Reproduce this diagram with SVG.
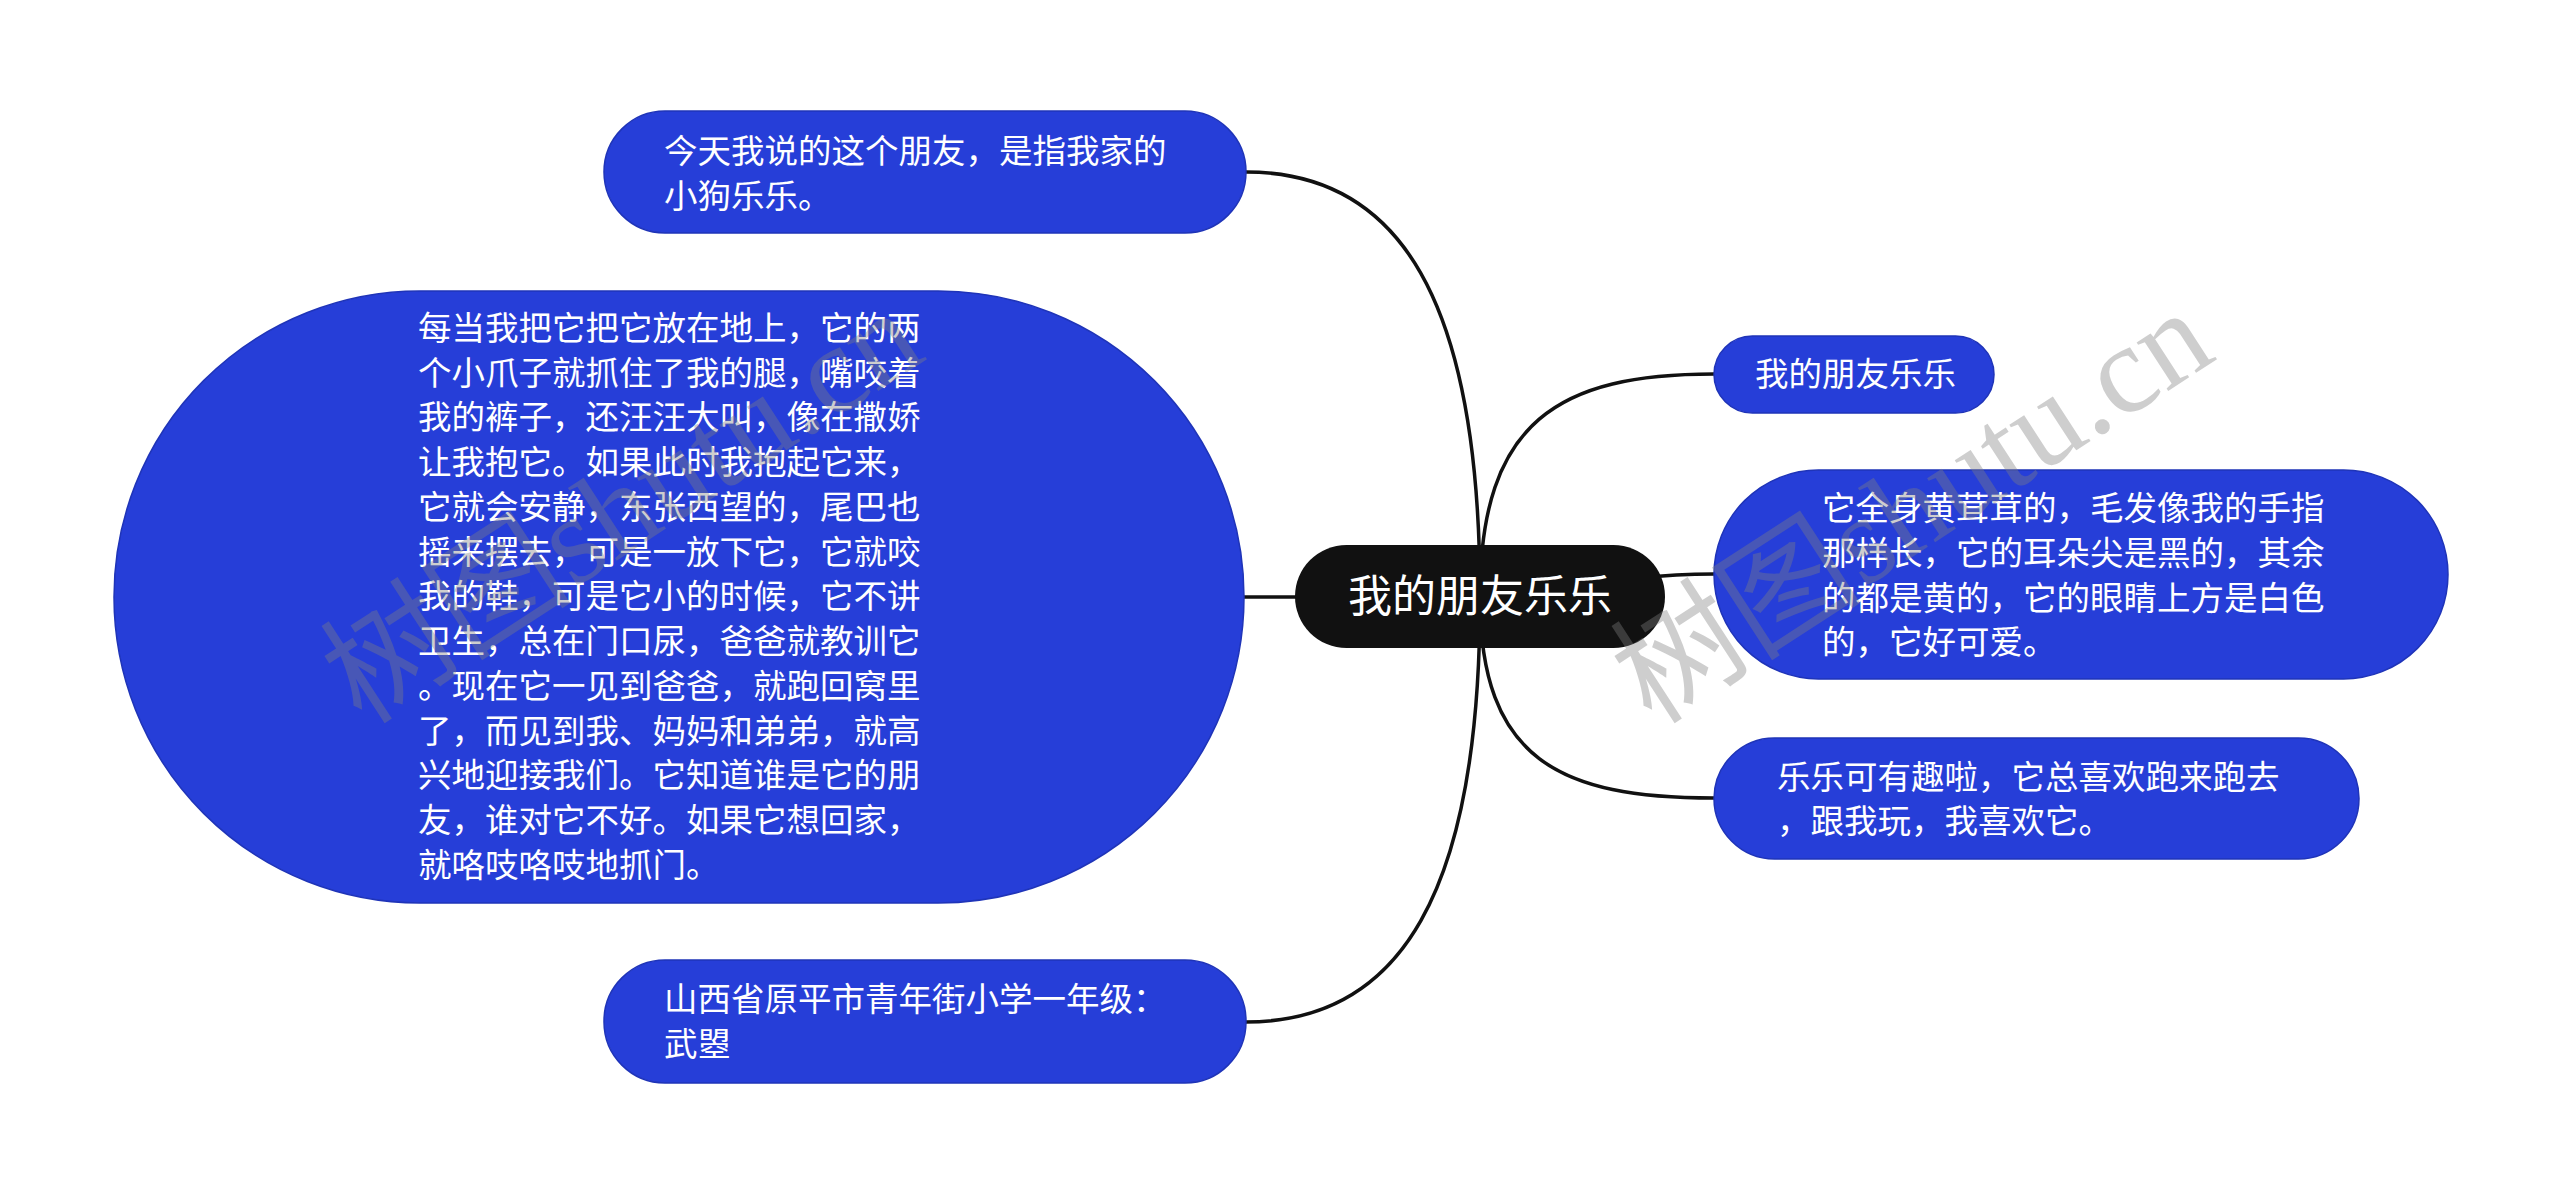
<svg xmlns="http://www.w3.org/2000/svg" width="2560" height="1195" viewBox="0 0 2560 1195">
<style>
.bg{fill:#ffffff}
.link{fill:none;stroke:#111111;stroke-width:3.5}
.sub{fill:#263ed8;stroke:#1f34b8;stroke-width:1.5}
.root{fill:#111111}
.t{fill:#ffffff;font-family:"Noto Sans CJK SC","Noto Sans",sans-serif;font-size:33.5px}
.rt{fill:#ffffff;font-family:"Noto Sans CJK SC","Noto Sans",sans-serif;font-size:44px}
.wm{fill:#808080;opacity:0.38;font-size:126px}
.wmc{font-family:"Noto Sans CJK SC",sans-serif}
.wml{font-family:"Liberation Serif","DejaVu Serif",serif}
</style>
<rect class="bg" x="0" y="0" width="2560" height="1195"/>
<g id="connectors">
<path class="link" d="M1480,597 C1480,300 1400,172 1246,172"/>
<path class="link" d="M1480,597 L1244,597"/>
<path class="link" d="M1480,597 C1480,894 1400,1022 1246,1022"/>
<path class="link" d="M1480,597 C1480,420 1560,374 1714,374"/>
<path class="link" d="M1480,597 C1580,597 1600,574 1714,574"/>
<path class="link" d="M1480,597 C1480,760 1560,798 1714,798"/>
</g>
<g id="node-top-left">
<rect class="sub" x="604" y="111" width="642" height="122" rx="61"/>
<text class="t" x="664" y="163">今天我说的这个朋友，是指我家的</text>
<text class="t" x="664" y="208">小狗乐乐。</text>
</g>
<g id="node-big-left">
<rect class="sub" x="114" y="291" width="1130" height="612" rx="306"/>
<text class="t" x="418" y="340">每当我把它把它放在地上，它的两</text>
<text class="t" x="418" y="385">个小爪子就抓住了我的腿，嘴咬着</text>
<text class="t" x="418" y="429">我的裤子，还汪汪大叫，像在撒娇</text>
<text class="t" x="418" y="474">让我抱它。如果此时我抱起它来，</text>
<text class="t" x="418" y="519">它就会安静，东张西望的，尾巴也</text>
<text class="t" x="418" y="564">摇来摆去，可是一放下它，它就咬</text>
<text class="t" x="418" y="608">我的鞋，可是它小的时候，它不讲</text>
<text class="t" x="418" y="653">卫生，总在门口尿，爸爸就教训它</text>
<text class="t" x="418" y="698">。现在它一见到爸爸，就跑回窝里</text>
<text class="t" x="418" y="743">了，而见到我、妈妈和弟弟，就高</text>
<text class="t" x="418" y="787">兴地迎接我们。它知道谁是它的朋</text>
<text class="t" x="418" y="832">友，谁对它不好。如果它想回家，</text>
<text class="t" x="418" y="877">就咯吱咯吱地抓门。</text>
</g>
<g id="node-bottom-left">
<rect class="sub" x="604" y="960" width="642" height="123" rx="61"/>
<text class="t" x="664" y="1011">山西省原平市青年街小学一年级：</text>
<text class="t" x="664" y="1056">武曌</text>
</g>
<g id="node-root">
<rect class="root" x="1295" y="545" width="370" height="103" rx="51.5"/>
<text class="rt" x="1480" y="612" text-anchor="middle">我的朋友乐乐</text>
</g>
<g id="node-right-1">
<rect class="sub" x="1714" y="336" width="280" height="77" rx="38.5"/>
<text class="t" x="1755" y="386">我的朋友乐乐</text>
</g>
<g id="node-right-2">
<rect class="sub" x="1714" y="470" width="734" height="209" rx="104.5"/>
<text class="t" x="1822" y="520">它全身黄茸茸的，毛发像我的手指</text>
<text class="t" x="1822" y="565">那样长，它的耳朵尖是黑的，其余</text>
<text class="t" x="1822" y="610">的都是黄的，它的眼睛上方是白色</text>
<text class="t" x="1822" y="654">的，它好可爱。</text>
</g>
<g id="node-right-3">
<rect class="sub" x="1714" y="738" width="645" height="121" rx="60.5"/>
<text class="t" x="1777" y="789">乐乐可有趣啦，它总喜欢跑来跑去</text>
<text class="t" x="1777" y="833">，跟我玩，我喜欢它。</text>
</g>
<g id="watermarks">
<text class="wm" transform="translate(362,726) rotate(-33)"><tspan class="wmc">树图</tspan><tspan class="wml">shutu.cn</tspan></text>
<text class="wm" transform="translate(1652,726) rotate(-33)"><tspan class="wmc">树图</tspan><tspan class="wml">shutu.cn</tspan></text>
</g>
</svg>
